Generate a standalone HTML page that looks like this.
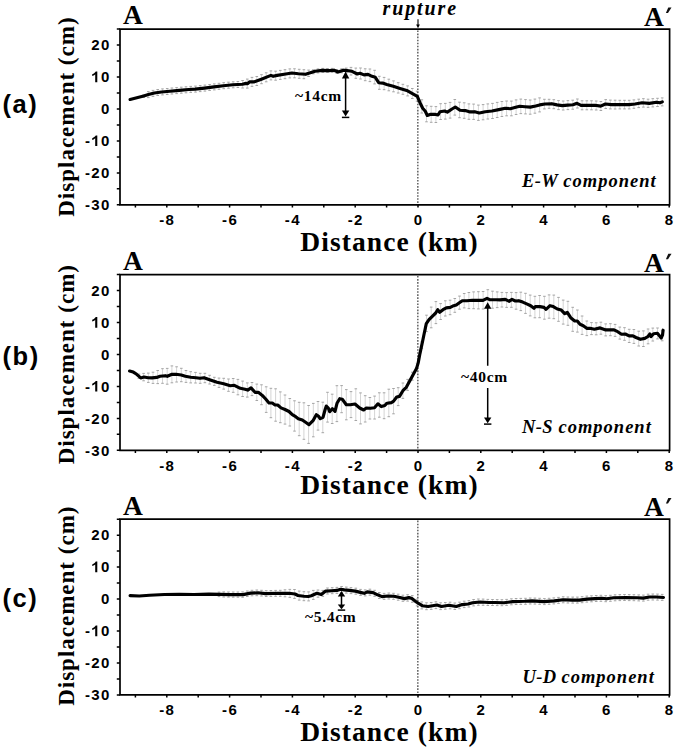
<!DOCTYPE html>
<html><head><meta charset="utf-8"><style>
html,body{margin:0;padding:0;background:#fff;}
body{width:675px;height:749px;overflow:hidden;}
svg{display:block;}
.tl{font-family:"Liberation Sans",sans-serif;font-weight:bold;font-size:15px;letter-spacing:1.4px;}
.AA{font-family:"Liberation Serif",serif;font-weight:bold;font-size:27.5px;}
.rup{font-family:"Liberation Serif",serif;font-weight:bold;font-style:italic;font-size:20px;letter-spacing:1.9px;}
.pl{font-family:"Liberation Sans",sans-serif;font-weight:bold;font-size:25.5px;letter-spacing:1.6px;}
.xl{font-family:"Liberation Serif",serif;font-weight:bold;font-size:27.5px;letter-spacing:1.1px;}
.yl{font-family:"Liberation Serif",serif;font-weight:bold;font-size:23px;letter-spacing:1.0px;}
.comp{font-family:"Liberation Serif",serif;font-weight:bold;font-style:italic;font-size:18.5px;letter-spacing:1.0px;}
.ew{letter-spacing:0.4px;}
.ann{font-family:"Liberation Serif",serif;font-weight:bold;font-size:15.5px;letter-spacing:0.7px;}
</style></head><body>
<svg width="675" height="749" viewBox="0 0 675 749">
<rect width="675" height="749" fill="#fff"/>
<path d="M143.6 94.7V97.4M148.3 91.6V97.6M153 90.4V96.4M157.7 89.5V95.5M162.5 88.9V94.9M167.2 88.5V94.5M171.9 88V94M176.6 87.6V93.6M181.3 87.2V93.2M186 86.8V92.8M190.7 86.4V92.4M195.5 86.1V92.1M200.2 85.6V91.6M204.9 85.1V91.1M209.6 84.5V90.5M214.3 83.9V89.9M219 83.3V89.3M223.7 82.7V88.7M228.5 82.2V88.2M233.2 81.8V87.8M237.9 81.5V87.5M242.6 80.5V88M247.3 79.1V88.1M252 77.4V86.4M256.8 76.5V85.5M261.5 74.7V83.7M266.2 72.8V81.8M270.9 70.9V79.9M275.6 71.2V80.2M280.3 70.4V79.4M285 69.7V78.7M289.8 68.9V77.9M294.5 68.8V77.8M299.2 69.3V78.3M303.9 69.7V78.7M308.6 70.1V76.5M313.3 69.8V73.8M318 68.9V72.9M322.8 68.4V72.4M327.5 68.5V72.5M332.2 68.4V72.4M336.9 69.5V73.5M341.6 68.8V72.8M346.3 68.1V72.9M351 67.4V75M355.8 68.1V78.3M360.5 68V79M365.2 68.8V80.7M369.9 69V81.6M374.6 70.3V83.9M379.3 76.3V89.3M384.1 77.4V89.7M388.8 79.2V90.8M393.5 80.9V91.8M398.2 82.7V93M402.9 84.3V94.3M407.6 85.9V95.9M412.3 88.5V98.5M417.1 91.2V101.2M421.8 99.8V113M426.5 105.8V121.8M431.2 106.3V122.3M435.9 106.6V122.5M440.6 103.7V119.5M445.3 103.4V119.1M450.1 102.4V118.1M454.8 99.5V115.1M459.5 102.2V117.7M464.2 102.8V118.3M468.9 103.9V119.3M473.6 104.1V119.4M478.4 105.1V120.4M483.1 104.6V119.8M487.8 103.9V119M492.5 103.4V118.5M497.2 102.4V117.5M501.9 101.5V116.5M506.6 101V115.8M511.4 101.1V115.8M516.1 99.9V114.5M520.8 99.1V113.6M525.5 99.6V113.9M530.2 100V114.2M534.9 99.1V113.2M539.6 97.9V111.9M544.4 99.3V108.9M549.1 99.3V108.3M553.8 99.7V108.7M558.5 100.6V109.6M563.2 101V110M567.9 100.6V109.6M572.7 100.2V109.2M577.4 99V108M582.1 100.8V109.8M586.8 100.8V109.8M591.5 100.8V109.8M596.2 101V110M600.9 101.5V110.5M605.7 99.6V108.5M610.4 100.1V108.9M615.1 100.2V109M619.8 100.3V108.9M624.5 100.3V108.9M629.2 100.3V108.9M633.9 99.9V108.3M638.7 99.2V107.6M643.4 98.7V107.1M648.1 99.2V107.4M652.8 98.7V106.9M657.5 98.3V106.5M662.2 97.9V105.9" stroke="#d4d4d4" stroke-width="1" fill="none"/>
<path d="M142.3 94.7h2.6M142.3 97.4h2.6M147 91.6h2.6M147 97.6h2.6M151.7 90.4h2.6M151.7 96.4h2.6M156.4 89.5h2.6M156.4 95.5h2.6M161.2 88.9h2.6M161.2 94.9h2.6M165.9 88.5h2.6M165.9 94.5h2.6M170.6 88h2.6M170.6 94h2.6M175.3 87.6h2.6M175.3 93.6h2.6M180 87.2h2.6M180 93.2h2.6M184.7 86.8h2.6M184.7 92.8h2.6M189.4 86.4h2.6M189.4 92.4h2.6M194.2 86.1h2.6M194.2 92.1h2.6M198.9 85.6h2.6M198.9 91.6h2.6M203.6 85.1h2.6M203.6 91.1h2.6M208.3 84.5h2.6M208.3 90.5h2.6M213 83.9h2.6M213 89.9h2.6M217.7 83.3h2.6M217.7 89.3h2.6M222.4 82.7h2.6M222.4 88.7h2.6M227.2 82.2h2.6M227.2 88.2h2.6M231.9 81.8h2.6M231.9 87.8h2.6M236.6 81.5h2.6M236.6 87.5h2.6M241.3 80.5h2.6M241.3 88h2.6M246 79.1h2.6M246 88.1h2.6M250.7 77.4h2.6M250.7 86.4h2.6M255.5 76.5h2.6M255.5 85.5h2.6M260.2 74.7h2.6M260.2 83.7h2.6M264.9 72.8h2.6M264.9 81.8h2.6M269.6 70.9h2.6M269.6 79.9h2.6M274.3 71.2h2.6M274.3 80.2h2.6M279 70.4h2.6M279 79.4h2.6M283.7 69.7h2.6M283.7 78.7h2.6M288.5 68.9h2.6M288.5 77.9h2.6M293.2 68.8h2.6M293.2 77.8h2.6M297.9 69.3h2.6M297.9 78.3h2.6M302.6 69.7h2.6M302.6 78.7h2.6M307.3 70.1h2.6M307.3 76.5h2.6M312 69.8h2.6M312 73.8h2.6M316.7 68.9h2.6M316.7 72.9h2.6M321.5 68.4h2.6M321.5 72.4h2.6M326.2 68.5h2.6M326.2 72.5h2.6M330.9 68.4h2.6M330.9 72.4h2.6M335.6 69.5h2.6M335.6 73.5h2.6M340.3 68.8h2.6M340.3 72.8h2.6M345 68.1h2.6M345 72.9h2.6M349.7 67.4h2.6M349.7 75h2.6M354.5 68.1h2.6M354.5 78.3h2.6M359.2 68h2.6M359.2 79h2.6M363.9 68.8h2.6M363.9 80.7h2.6M368.6 69h2.6M368.6 81.6h2.6M373.3 70.3h2.6M373.3 83.9h2.6M378 76.3h2.6M378 89.3h2.6M382.8 77.4h2.6M382.8 89.7h2.6M387.5 79.2h2.6M387.5 90.8h2.6M392.2 80.9h2.6M392.2 91.8h2.6M396.9 82.7h2.6M396.9 93h2.6M401.6 84.3h2.6M401.6 94.3h2.6M406.3 85.9h2.6M406.3 95.9h2.6M411 88.5h2.6M411 98.5h2.6M415.8 91.2h2.6M415.8 101.2h2.6M420.5 99.8h2.6M420.5 113h2.6M425.2 105.8h2.6M425.2 121.8h2.6M429.9 106.3h2.6M429.9 122.3h2.6M434.6 106.6h2.6M434.6 122.5h2.6M439.3 103.7h2.6M439.3 119.5h2.6M444 103.4h2.6M444 119.1h2.6M448.8 102.4h2.6M448.8 118.1h2.6M453.5 99.5h2.6M453.5 115.1h2.6M458.2 102.2h2.6M458.2 117.7h2.6M462.9 102.8h2.6M462.9 118.3h2.6M467.6 103.9h2.6M467.6 119.3h2.6M472.3 104.1h2.6M472.3 119.4h2.6M477.1 105.1h2.6M477.1 120.4h2.6M481.8 104.6h2.6M481.8 119.8h2.6M486.5 103.9h2.6M486.5 119h2.6M491.2 103.4h2.6M491.2 118.5h2.6M495.9 102.4h2.6M495.9 117.5h2.6M500.6 101.5h2.6M500.6 116.5h2.6M505.3 101h2.6M505.3 115.8h2.6M510.1 101.1h2.6M510.1 115.8h2.6M514.8 99.9h2.6M514.8 114.5h2.6M519.5 99.1h2.6M519.5 113.6h2.6M524.2 99.6h2.6M524.2 113.9h2.6M528.9 100h2.6M528.9 114.2h2.6M533.6 99.1h2.6M533.6 113.2h2.6M538.3 97.9h2.6M538.3 111.9h2.6M543.1 99.3h2.6M543.1 108.9h2.6M547.8 99.3h2.6M547.8 108.3h2.6M552.5 99.7h2.6M552.5 108.7h2.6M557.2 100.6h2.6M557.2 109.6h2.6M561.9 101h2.6M561.9 110h2.6M566.6 100.6h2.6M566.6 109.6h2.6M571.4 100.2h2.6M571.4 109.2h2.6M576.1 99h2.6M576.1 108h2.6M580.8 100.8h2.6M580.8 109.8h2.6M585.5 100.8h2.6M585.5 109.8h2.6M590.2 100.8h2.6M590.2 109.8h2.6M594.9 101h2.6M594.9 110h2.6M599.6 101.5h2.6M599.6 110.5h2.6M604.4 99.6h2.6M604.4 108.5h2.6M609.1 100.1h2.6M609.1 108.9h2.6M613.8 100.2h2.6M613.8 109h2.6M618.5 100.3h2.6M618.5 108.9h2.6M623.2 100.3h2.6M623.2 108.9h2.6M627.9 100.3h2.6M627.9 108.9h2.6M632.6 99.9h2.6M632.6 108.3h2.6M637.4 99.2h2.6M637.4 107.6h2.6M642.1 98.7h2.6M642.1 107.1h2.6M646.8 99.2h2.6M646.8 107.4h2.6M651.5 98.7h2.6M651.5 106.9h2.6M656.2 98.3h2.6M656.2 106.5h2.6M660.9 97.9h2.6M660.9 105.9h2.6" stroke="#9c9c9c" stroke-width="0.9" fill="none"/>
<line x1="417.8" y1="30.5" x2="417.8" y2="203.8" stroke="#6a6a6a" stroke-width="1.6" stroke-dasharray="1.6 1.45"/>
<polyline points="130.1,99.5 137.8,97.5 143.7,96 148.4,94.6 154.4,93 161.5,92 169.8,91.2 179.3,90.4 188.7,89.5 195,89.1 204.5,88.1 214,86.9 223.4,85.7 232.9,84.8 242.4,84.3 246,83.4 247.7,83.7 249.5,81.9 254.3,81.9 261.4,79.2 270.9,75.4 273.2,76.3 277.1,75.4 284.2,74.3 291.9,73 298.4,73.7 305.6,74.3 310.3,72.8 315,71.2 322.1,70.4 329.3,70.6 334,70.2 338.1,72 343.5,70.2 345.3,70.4 352,71.3 357.3,74 360,73.3 364,74.9 368,74.4 372,76.3 375.3,77.3 378.7,82.7 382.7,83.1 386.7,84.4 393.3,86.3 400,88.4 406.7,90.4 412,93.3 417.3,96.3 420,102.7 422.7,108.3 425.3,111.3 427.3,115.5 430.7,114.3 434.7,114.3 438,115 440,111.7 444.7,111 447.3,112.1 452,109 455.3,107 460,110.3 465.3,110.6 470,111.9 474.7,111.7 479.3,113 485.3,111.7 492,111 500,109.4 505.3,108.3 510.3,108.7 515.7,107.3 519.7,106.3 525,106.7 530.3,107.1 535.7,106 539.7,104.9 545,104 551.7,103.7 557,104.9 562.3,105.6 567.7,105.1 573,104.7 577,103.3 581,105.3 587.7,105.3 595,105.3 600.7,106.1 605.4,104 611.3,104.6 619.6,104.6 629.1,104.6 635,104 642.1,102.8 649.3,103.4 656.4,102.2 659.9,102.8 662.3,101.9" fill="none" stroke="#000" stroke-width="3.15" stroke-linejoin="round" stroke-linecap="round"/>
<path d="M120 29.1H669.6V204.8H120Z" fill="none" stroke="#000" stroke-width="1.7"/>
<path d="M116.8 204.8H120M116.8 188.8H120M116.8 172.9H120M116.8 156.9H120M116.8 140.9H120M116.8 124.9H120M116.8 109H120M116.8 93H120M116.8 77H120M116.8 61H120M116.8 45.1H120M116.8 29.1H120M135.4 204.8V207.4M166.8 204.8V207.4M198.2 204.8V207.4M229.6 204.8V207.4M261 204.8V207.4M292.4 204.8V207.4M323.8 204.8V207.4M355.2 204.8V207.4M386.6 204.8V207.4M418 204.8V207.4M449.4 204.8V207.4M480.8 204.8V207.4M512.2 204.8V207.4M543.6 204.8V207.4M575 204.8V207.4M606.4 204.8V207.4M637.8 204.8V207.4M669.2 204.8V207.4" stroke="#000" stroke-width="1.5" fill="none"/>
<text x="110.8" y="210" class="tl" text-anchor="end">-30</text>
<text x="110.8" y="178.1" class="tl" text-anchor="end">-20</text>
<text x="84.9" y="146.1" class="tl">-</text>
<path d="M97.3 146.1L97.3 135.4L95.8 135.4L94.9 136.5L93.9 137.3L92.2 138.2L92.2 139.9L93.6 139.4L94.6 138.8L95.2 138.2L95.2 146.1Z" fill="#000"/>
<text x="101.1" y="146.1" class="tl">0</text>
<text x="110.8" y="114.2" class="tl" text-anchor="end">0</text>
<path d="M97.3 82.2L97.3 71.5L95.8 71.5L94.9 72.6L93.9 73.4L92.2 74.3L92.2 76L93.6 75.5L94.6 74.9L95.2 74.3L95.2 82.2Z" fill="#000"/>
<text x="101.1" y="82.2" class="tl">0</text>
<text x="110.8" y="50.3" class="tl" text-anchor="end">20</text>
<text x="167.3" y="225" class="tl" text-anchor="middle">-8</text>
<text x="230.1" y="225" class="tl" text-anchor="middle">-6</text>
<text x="292.9" y="225" class="tl" text-anchor="middle">-4</text>
<text x="355.7" y="225" class="tl" text-anchor="middle">-2</text>
<text x="418.5" y="225" class="tl" text-anchor="middle">0</text>
<text x="481.3" y="225" class="tl" text-anchor="middle">2</text>
<text x="544.1" y="225" class="tl" text-anchor="middle">4</text>
<text x="606.9" y="225" class="tl" text-anchor="middle">6</text>
<text x="669.7" y="225" class="tl" text-anchor="middle">8</text>
<path d="M138.9 374.1V378.4M143.6 373.4V380.8M148.3 373.1V382.4M153 372.2V383.4M157.7 370.5V383.6M162.5 368.7V383.3M167.2 368.4V384.2M171.9 365.9V382.8M176.6 366.8V382M181.3 368.3V381.7M186 370.5V382.4M190.7 371.7V382.9M195.5 372.4V383M200.2 373.3V383.3M204.9 373.3V382.7M209.6 375.3V384M214.3 377.3V385.4M219 378.1V387.4M223.7 378.3V389.1M228.5 379V391.3M233.2 378.5V392.3M237.9 379.4V394.8M242.6 381.1V396.5M247.3 382.9V397.1M252 382.5V395.6M256.8 384.1V400.5M261.5 384.8V404.7M266.2 386.8V412.4M270.9 388.3V417.7M275.6 388.8V421.2M280.3 391.9V422.7M285 395V424.1M289.8 398.5V426M294.5 400.8V431.1M299.2 402.3V435.7M303.9 402.8V439.3M308.6 405.5V443.4M313.3 403.4V436.8M318 401.5V430.1M322.8 402.2V432.7M327.5 392.3V422.1M332.2 394.2V423.5M336.9 385.7V421.6M341.6 385.6V412.7M346.3 389.6V419.8M351 391.6V417.6M355.8 388.8V420.5M360.5 392.9V423.9M365.2 395.7V422M369.9 397.5V419M374.6 396.1V419M379.3 392.8V417.2M384.1 392.8V418.7M388.8 389.2V416.7M393.5 388.5V413.8M398.2 387.7V405.6M402.9 383V398.4M407.6 379.4V390.4M412.3 372.2V380.2M417.1 363.1V370.3M421.8 341.8V348.4M426.5 315.2V331.6M431.2 307.1V327.8M435.9 301.6V323.6M440.6 303.6V319.5M445.3 300.8V316M450.1 300.2V314.7M454.8 298.5V312.3M459.5 296.1V309.2M464.2 293.5V307.9M468.9 292.5V308.6M473.6 291.9V308.7M478.4 291.7V308.9M483.1 291.5V309M487.8 289.7V307.7M492.5 291.2V308.2M497.2 291.9V307.6M501.9 292.4V307M506.6 292.6V307.4M511.4 292.4V307.3M516.1 292.6V309.2M520.8 292.2V310.6M525.5 293.3V313.4M530.2 295.1V315.9M534.9 296.3V317.8M539.6 295.5V317.7M544.4 296.3V319.2M549.1 294.9V318.2M553.8 295.1V318.7M558.5 297.4V321.3M563.2 300.1V324.1M567.9 301.3V325.3M572.7 307.3V331.3M577.4 310V332.1M582.1 316V334.4M586.8 321V335.6M591.5 322.6V334.6M596.2 322.8V334.8M600.9 322.2V334.2M605.7 323.9V335.9M610.4 323.7V335.7M615.1 324.4V336.4M619.8 327.1V339.1M624.5 327.7V340.3M629.2 329.3V342.5M633.9 329.5V343.4M638.7 331.2V346M643.4 330.9V346.5M648.1 329V343.8M652.8 328.1V341M657.5 328V338.9M662.2 330.8V340.8" stroke="#d4d4d4" stroke-width="1" fill="none"/>
<path d="M137.6 374.1h2.6M137.6 378.4h2.6M142.3 373.4h2.6M142.3 380.8h2.6M147 373.1h2.6M147 382.4h2.6M151.7 372.2h2.6M151.7 383.4h2.6M156.4 370.5h2.6M156.4 383.6h2.6M161.2 368.7h2.6M161.2 383.3h2.6M165.9 368.4h2.6M165.9 384.2h2.6M170.6 365.9h2.6M170.6 382.8h2.6M175.3 366.8h2.6M175.3 382h2.6M180 368.3h2.6M180 381.7h2.6M184.7 370.5h2.6M184.7 382.4h2.6M189.4 371.7h2.6M189.4 382.9h2.6M194.2 372.4h2.6M194.2 383h2.6M198.9 373.3h2.6M198.9 383.3h2.6M203.6 373.3h2.6M203.6 382.7h2.6M208.3 375.3h2.6M208.3 384h2.6M213 377.3h2.6M213 385.4h2.6M217.7 378.1h2.6M217.7 387.4h2.6M222.4 378.3h2.6M222.4 389.1h2.6M227.2 379h2.6M227.2 391.3h2.6M231.9 378.5h2.6M231.9 392.3h2.6M236.6 379.4h2.6M236.6 394.8h2.6M241.3 381.1h2.6M241.3 396.5h2.6M246 382.9h2.6M246 397.1h2.6M250.7 382.5h2.6M250.7 395.6h2.6M255.5 384.1h2.6M255.5 400.5h2.6M260.2 384.8h2.6M260.2 404.7h2.6M264.9 386.8h2.6M264.9 412.4h2.6M269.6 388.3h2.6M269.6 417.7h2.6M274.3 388.8h2.6M274.3 421.2h2.6M279 391.9h2.6M279 422.7h2.6M283.7 395h2.6M283.7 424.1h2.6M288.5 398.5h2.6M288.5 426h2.6M293.2 400.8h2.6M293.2 431.1h2.6M297.9 402.3h2.6M297.9 435.7h2.6M302.6 402.8h2.6M302.6 439.3h2.6M307.3 405.5h2.6M307.3 443.4h2.6M312 403.4h2.6M312 436.8h2.6M316.7 401.5h2.6M316.7 430.1h2.6M321.5 402.2h2.6M321.5 432.7h2.6M326.2 392.3h2.6M326.2 422.1h2.6M330.9 394.2h2.6M330.9 423.5h2.6M335.6 385.7h2.6M335.6 421.6h2.6M340.3 385.6h2.6M340.3 412.7h2.6M345 389.6h2.6M345 419.8h2.6M349.7 391.6h2.6M349.7 417.6h2.6M354.5 388.8h2.6M354.5 420.5h2.6M359.2 392.9h2.6M359.2 423.9h2.6M363.9 395.7h2.6M363.9 422h2.6M368.6 397.5h2.6M368.6 419h2.6M373.3 396.1h2.6M373.3 419h2.6M378 392.8h2.6M378 417.2h2.6M382.8 392.8h2.6M382.8 418.7h2.6M387.5 389.2h2.6M387.5 416.7h2.6M392.2 388.5h2.6M392.2 413.8h2.6M396.9 387.7h2.6M396.9 405.6h2.6M401.6 383h2.6M401.6 398.4h2.6M406.3 379.4h2.6M406.3 390.4h2.6M411 372.2h2.6M411 380.2h2.6M415.8 363.1h2.6M415.8 370.3h2.6M420.5 341.8h2.6M420.5 348.4h2.6M425.2 315.2h2.6M425.2 331.6h2.6M429.9 307.1h2.6M429.9 327.8h2.6M434.6 301.6h2.6M434.6 323.6h2.6M439.3 303.6h2.6M439.3 319.5h2.6M444 300.8h2.6M444 316h2.6M448.8 300.2h2.6M448.8 314.7h2.6M453.5 298.5h2.6M453.5 312.3h2.6M458.2 296.1h2.6M458.2 309.2h2.6M462.9 293.5h2.6M462.9 307.9h2.6M467.6 292.5h2.6M467.6 308.6h2.6M472.3 291.9h2.6M472.3 308.7h2.6M477.1 291.7h2.6M477.1 308.9h2.6M481.8 291.5h2.6M481.8 309h2.6M486.5 289.7h2.6M486.5 307.7h2.6M491.2 291.2h2.6M491.2 308.2h2.6M495.9 291.9h2.6M495.9 307.6h2.6M500.6 292.4h2.6M500.6 307h2.6M505.3 292.6h2.6M505.3 307.4h2.6M510.1 292.4h2.6M510.1 307.3h2.6M514.8 292.6h2.6M514.8 309.2h2.6M519.5 292.2h2.6M519.5 310.6h2.6M524.2 293.3h2.6M524.2 313.4h2.6M528.9 295.1h2.6M528.9 315.9h2.6M533.6 296.3h2.6M533.6 317.8h2.6M538.3 295.5h2.6M538.3 317.7h2.6M543.1 296.3h2.6M543.1 319.2h2.6M547.8 294.9h2.6M547.8 318.2h2.6M552.5 295.1h2.6M552.5 318.7h2.6M557.2 297.4h2.6M557.2 321.3h2.6M561.9 300.1h2.6M561.9 324.1h2.6M566.6 301.3h2.6M566.6 325.3h2.6M571.4 307.3h2.6M571.4 331.3h2.6M576.1 310h2.6M576.1 332.1h2.6M580.8 316h2.6M580.8 334.4h2.6M585.5 321h2.6M585.5 335.6h2.6M590.2 322.6h2.6M590.2 334.6h2.6M594.9 322.8h2.6M594.9 334.8h2.6M599.6 322.2h2.6M599.6 334.2h2.6M604.4 323.9h2.6M604.4 335.9h2.6M609.1 323.7h2.6M609.1 335.7h2.6M613.8 324.4h2.6M613.8 336.4h2.6M618.5 327.1h2.6M618.5 339.1h2.6M623.2 327.7h2.6M623.2 340.3h2.6M627.9 329.3h2.6M627.9 342.5h2.6M632.6 329.5h2.6M632.6 343.4h2.6M637.4 331.2h2.6M637.4 346h2.6M642.1 330.9h2.6M642.1 346.5h2.6M646.8 329h2.6M646.8 343.8h2.6M651.5 328.1h2.6M651.5 341h2.6M656.2 328h2.6M656.2 338.9h2.6M660.9 330.8h2.6M660.9 340.8h2.6" stroke="#9c9c9c" stroke-width="0.9" fill="none"/>
<line x1="417.8" y1="276" x2="417.8" y2="449.3" stroke="#6a6a6a" stroke-width="1.6" stroke-dasharray="1.6 1.45"/>
<polyline points="129.6,371 133.3,372.1 136.7,374.3 140.7,377.9 144,377 148,377.7 152,377.9 156.7,377.4 160,376.3 165.3,375.7 167.3,376.3 172,374.3 176,374.3 181.3,375 185.3,376.3 190.7,377.3 196,377.7 200,378.3 204,377.7 210.3,379.9 217,382.3 223.7,383.7 230.3,385.7 234.3,385.3 240.3,388.3 245,389.3 247.7,390.1 251,387.9 255,392.3 258.3,392.3 262.3,395.4 265.7,399 269,403 272.3,403 275,405 277.7,405 281,407.9 285,409.5 289,411.5 292.3,414.7 295.7,416.7 298.3,418.7 302.3,420 306.3,422.7 309,424.7 313,420.7 316.3,414.7 318.3,416 320.3,418.7 323,417.3 325,410 326.3,406 328.3,408 329.7,411.7 332.3,408.7 335,411.3 337,403.3 339.7,398.7 342.3,399.3 346.3,404.7 350.3,404.7 355,404 359.7,408 363.7,410 366.3,408 370.3,408.3 374.5,407.7 377.9,403.8 381.3,406.6 384.8,405.5 387,403.2 391.6,402.6 393.8,400.9 396.7,397 399.5,396.4 402.9,390.7 406.3,387.3 409.7,381.1 413.1,374.8 416.5,368.6 418.2,362.9 419.9,353.8 421.6,345.9 422.8,340.2 424.3,333 426.3,323.7 429,319.7 432.3,316.3 435.7,313 437.7,309.7 439.7,312.3 443,309.7 446.3,307.9 450.3,307.4 453.7,305.7 456.3,305 459,303 462.3,300.7 467,300.7 472.3,300.3 477.7,300.3 483,300.3 487,298.3 489.7,299.7 496.3,299.7 500,299.9 505.3,299.4 509.3,301.3 512,299.4 515.3,301 518.7,300.7 522.7,302.1 526.7,303.9 530.7,305.7 534,308.3 535.3,306.6 540,306.6 544,307.4 546,309.3 550,305.7 553.3,306.6 557.3,309 561.3,310.1 564.7,313.7 567.3,312.3 570.7,317.7 574.7,321 577.3,321 580,324.3 583.3,325.7 586.7,328.3 590,328.3 594.4,329.2 600.1,327.9 605.8,329.9 610.2,329.7 614,329.9 617.7,331.7 621.5,334.2 625.3,334 629.1,335.9 632.9,335.9 636,337.5 640.4,339.3 644.8,338.4 648,336.5 649.9,334 651.1,336.5 653.6,333.7 657.4,333.3 661.2,338 662.5,335.2 663.1,330.2" fill="none" stroke="#000" stroke-width="3.15" stroke-linejoin="round" stroke-linecap="round"/>
<path d="M120 274.6H669.6V450.3H120Z" fill="none" stroke="#000" stroke-width="1.7"/>
<path d="M116.8 450.3H120M116.8 434.3H120M116.8 418.4H120M116.8 402.4H120M116.8 386.4H120M116.8 370.4H120M116.8 354.5H120M116.8 338.5H120M116.8 322.5H120M116.8 306.5H120M116.8 290.6H120M116.8 274.6H120M135.4 450.3V452.9M166.8 450.3V452.9M198.2 450.3V452.9M229.6 450.3V452.9M261 450.3V452.9M292.4 450.3V452.9M323.8 450.3V452.9M355.2 450.3V452.9M386.6 450.3V452.9M418 450.3V452.9M449.4 450.3V452.9M480.8 450.3V452.9M512.2 450.3V452.9M543.6 450.3V452.9M575 450.3V452.9M606.4 450.3V452.9M637.8 450.3V452.9M669.2 450.3V452.9" stroke="#000" stroke-width="1.5" fill="none"/>
<text x="110.8" y="455.5" class="tl" text-anchor="end">-30</text>
<text x="110.8" y="423.6" class="tl" text-anchor="end">-20</text>
<text x="84.9" y="391.6" class="tl">-</text>
<path d="M97.3 391.6L97.3 380.9L95.8 380.9L94.9 382L93.9 382.8L92.2 383.7L92.2 385.4L93.6 384.9L94.6 384.3L95.2 383.7L95.2 391.6Z" fill="#000"/>
<text x="101.1" y="391.6" class="tl">0</text>
<text x="110.8" y="359.7" class="tl" text-anchor="end">0</text>
<path d="M97.3 327.7L97.3 317L95.8 317L94.9 318.1L93.9 318.9L92.2 319.8L92.2 321.5L93.6 321L94.6 320.4L95.2 319.8L95.2 327.7Z" fill="#000"/>
<text x="101.1" y="327.7" class="tl">0</text>
<text x="110.8" y="295.8" class="tl" text-anchor="end">20</text>
<text x="167.3" y="470.5" class="tl" text-anchor="middle">-8</text>
<text x="230.1" y="470.5" class="tl" text-anchor="middle">-6</text>
<text x="292.9" y="470.5" class="tl" text-anchor="middle">-4</text>
<text x="355.7" y="470.5" class="tl" text-anchor="middle">-2</text>
<text x="418.5" y="470.5" class="tl" text-anchor="middle">0</text>
<text x="481.3" y="470.5" class="tl" text-anchor="middle">2</text>
<text x="544.1" y="470.5" class="tl" text-anchor="middle">4</text>
<text x="606.9" y="470.5" class="tl" text-anchor="middle">6</text>
<text x="669.7" y="470.5" class="tl" text-anchor="middle">8</text>
<path d="M219 592.1V596.6M223.7 591.9V597M228.5 592V597.1M233.2 592V597.2M237.9 592V597.2M242.6 591.9V597.3M247.3 591V596.5M252 590.3V595.8M256.8 590V595.7M261.5 590.3V596M266.2 590.7V596.5M270.9 590.5V596.4M275.6 590.4V596.3M280.3 590.3V596.3M285 589.8V596.8M289.8 589.4V597.4M294.5 589.5V598.4M299.2 591.1V600.1M303.9 591.7V600.7M308.6 591.9V600.9M313.3 590.4V599.4M318 590V597.2M322.8 590.4V596.4M327.5 588V594M332.2 587.7V593.7M336.9 587.4V593.4M341.6 586.5V592.5M346.3 587.1V593.1M351 587.6V593.6M355.8 588.2V594.2M360.5 589.4V595.4M365.2 589.9V595.9M369.9 589.2V595.2M374.6 590.3V596.3M379.3 592.5V598.5M384.1 593.4V599.4M388.8 593V599M393.5 593.3V599.3M398.2 594.2V600.2M402.9 595.2V601.3M407.6 594.7V601.1M412.3 595.6V602.3M417.1 599.1V605.9M421.8 601.9V608.9M426.5 602.8V609.7M431.2 602.5V609.4M435.9 601.8V608.6M440.6 602.8V609.6M445.3 602.5V609.2M450.1 602.2V608.8M454.8 603V609.5M459.5 602.2V608.7M464.2 601.2V607.6M468.9 600.6V607M473.6 599.5V605.9M478.4 599V605.3M483.1 599.1V605.3M487.8 599.4V605.5M492.5 599.5V605.5M497.2 599.6V605.6M501.9 599.7V605.7M506.6 599.4V605.4M511.4 598.8V604.8M516.1 598.5V604.5M520.8 598.4V604.4M525.5 598.3V604.3M530.2 598V604M534.9 598.1V604.1M539.6 598.3V604.3M544.4 598.6V604.6M549.1 598.3V604.3M553.8 597.9V603.9M558.5 597.4V603.4M563.2 596.8V602.8M567.9 597V603M572.7 597.1V603.1M577.4 597.1V603.1M582.1 596.7V602.7M586.8 596.1V602.1M591.5 595.8V601.8M596.2 595.5V601.5M600.9 595.3V601.3M605.7 595.7V601.7M610.4 595.3V601.3M615.1 594.8V600.8M619.8 594.6V600.6M624.5 594.5V600.5M629.2 594.6V600.6M633.9 594.7V600.7M638.7 594.9V600.9M643.4 595.1V601.1M648.1 594.2V600.2M652.8 594V600M657.5 594.1V600.1M662.2 594.4V600.4" stroke="#d4d4d4" stroke-width="1" fill="none"/>
<path d="M217.7 592.1h2.6M217.7 596.6h2.6M222.4 591.9h2.6M222.4 597h2.6M227.2 592h2.6M227.2 597.1h2.6M231.9 592h2.6M231.9 597.2h2.6M236.6 592h2.6M236.6 597.2h2.6M241.3 591.9h2.6M241.3 597.3h2.6M246 591h2.6M246 596.5h2.6M250.7 590.3h2.6M250.7 595.8h2.6M255.5 590h2.6M255.5 595.7h2.6M260.2 590.3h2.6M260.2 596h2.6M264.9 590.7h2.6M264.9 596.5h2.6M269.6 590.5h2.6M269.6 596.4h2.6M274.3 590.4h2.6M274.3 596.3h2.6M279 590.3h2.6M279 596.3h2.6M283.7 589.8h2.6M283.7 596.8h2.6M288.5 589.4h2.6M288.5 597.4h2.6M293.2 589.5h2.6M293.2 598.4h2.6M297.9 591.1h2.6M297.9 600.1h2.6M302.6 591.7h2.6M302.6 600.7h2.6M307.3 591.9h2.6M307.3 600.9h2.6M312 590.4h2.6M312 599.4h2.6M316.7 590h2.6M316.7 597.2h2.6M321.5 590.4h2.6M321.5 596.4h2.6M326.2 588h2.6M326.2 594h2.6M330.9 587.7h2.6M330.9 593.7h2.6M335.6 587.4h2.6M335.6 593.4h2.6M340.3 586.5h2.6M340.3 592.5h2.6M345 587.1h2.6M345 593.1h2.6M349.7 587.6h2.6M349.7 593.6h2.6M354.5 588.2h2.6M354.5 594.2h2.6M359.2 589.4h2.6M359.2 595.4h2.6M363.9 589.9h2.6M363.9 595.9h2.6M368.6 589.2h2.6M368.6 595.2h2.6M373.3 590.3h2.6M373.3 596.3h2.6M378 592.5h2.6M378 598.5h2.6M382.8 593.4h2.6M382.8 599.4h2.6M387.5 593h2.6M387.5 599h2.6M392.2 593.3h2.6M392.2 599.3h2.6M396.9 594.2h2.6M396.9 600.2h2.6M401.6 595.2h2.6M401.6 601.3h2.6M406.3 594.7h2.6M406.3 601.1h2.6M411 595.6h2.6M411 602.3h2.6M415.8 599.1h2.6M415.8 605.9h2.6M420.5 601.9h2.6M420.5 608.9h2.6M425.2 602.8h2.6M425.2 609.7h2.6M429.9 602.5h2.6M429.9 609.4h2.6M434.6 601.8h2.6M434.6 608.6h2.6M439.3 602.8h2.6M439.3 609.6h2.6M444 602.5h2.6M444 609.2h2.6M448.8 602.2h2.6M448.8 608.8h2.6M453.5 603h2.6M453.5 609.5h2.6M458.2 602.2h2.6M458.2 608.7h2.6M462.9 601.2h2.6M462.9 607.6h2.6M467.6 600.6h2.6M467.6 607h2.6M472.3 599.5h2.6M472.3 605.9h2.6M477.1 599h2.6M477.1 605.3h2.6M481.8 599.1h2.6M481.8 605.3h2.6M486.5 599.4h2.6M486.5 605.5h2.6M491.2 599.5h2.6M491.2 605.5h2.6M495.9 599.6h2.6M495.9 605.6h2.6M500.6 599.7h2.6M500.6 605.7h2.6M505.3 599.4h2.6M505.3 605.4h2.6M510.1 598.8h2.6M510.1 604.8h2.6M514.8 598.5h2.6M514.8 604.5h2.6M519.5 598.4h2.6M519.5 604.4h2.6M524.2 598.3h2.6M524.2 604.3h2.6M528.9 598h2.6M528.9 604h2.6M533.6 598.1h2.6M533.6 604.1h2.6M538.3 598.3h2.6M538.3 604.3h2.6M543.1 598.6h2.6M543.1 604.6h2.6M547.8 598.3h2.6M547.8 604.3h2.6M552.5 597.9h2.6M552.5 603.9h2.6M557.2 597.4h2.6M557.2 603.4h2.6M561.9 596.8h2.6M561.9 602.8h2.6M566.6 597h2.6M566.6 603h2.6M571.4 597.1h2.6M571.4 603.1h2.6M576.1 597.1h2.6M576.1 603.1h2.6M580.8 596.7h2.6M580.8 602.7h2.6M585.5 596.1h2.6M585.5 602.1h2.6M590.2 595.8h2.6M590.2 601.8h2.6M594.9 595.5h2.6M594.9 601.5h2.6M599.6 595.3h2.6M599.6 601.3h2.6M604.4 595.7h2.6M604.4 601.7h2.6M609.1 595.3h2.6M609.1 601.3h2.6M613.8 594.8h2.6M613.8 600.8h2.6M618.5 594.6h2.6M618.5 600.6h2.6M623.2 594.5h2.6M623.2 600.5h2.6M627.9 594.6h2.6M627.9 600.6h2.6M632.6 594.7h2.6M632.6 600.7h2.6M637.4 594.9h2.6M637.4 600.9h2.6M642.1 595.1h2.6M642.1 601.1h2.6M646.8 594.2h2.6M646.8 600.2h2.6M651.5 594h2.6M651.5 600h2.6M656.2 594.1h2.6M656.2 600.1h2.6M660.9 594.4h2.6M660.9 600.4h2.6" stroke="#9c9c9c" stroke-width="0.9" fill="none"/>
<line x1="417.8" y1="520.6" x2="417.8" y2="693.9" stroke="#6a6a6a" stroke-width="1.6" stroke-dasharray="1.6 1.45"/>
<polyline points="130.1,595.6 139.3,596 149.6,595.3 164.4,594.5 179.3,594.4 194.1,594.5 208.9,594.1 220,594.4 229.8,594.6 243.1,594.6 250.6,593.1 258,592.8 265.4,593.6 277.2,593.3 289.1,593.3 295,594 298,595.5 303.9,596.2 308.3,596.5 311.3,595.8 316.9,593.3 321.3,594.5 325.7,591.1 331.7,590.7 336.9,590.4 340.6,589.3 344.3,589.9 349.4,590.4 355.4,591.1 361.3,592.6 364.3,593.3 367.2,591.9 373.1,592.6 377.6,594.8 382,596.6 388,596 393.9,596.3 399.8,597.5 404.4,598.6 408.9,597.6 411.9,598.6 416.3,602 422.2,605.7 428.1,606.5 437,605 441.5,606.5 448.9,605.3 456.3,606.5 462.2,604.6 468.1,604 472.6,602.8 480,602 488.9,602.5 495,602.5 503.9,602.8 512.8,601.6 524.6,601.3 532,600.9 543.9,601.6 554.3,600.9 563.1,599.8 572,600.1 579.4,600.1 586.9,599.1 595,598.6 601.9,598.2 606.6,598.8 613.7,597.8 625.6,597.5 637.4,597.8 643.3,598.1 649.3,597 656.4,597 663.5,597.5" fill="none" stroke="#000" stroke-width="3.15" stroke-linejoin="round" stroke-linecap="round"/>
<path d="M120 519.2H669.6V694.9H120Z" fill="none" stroke="#000" stroke-width="1.7"/>
<path d="M116.8 694.9H120M116.8 678.9H120M116.8 663H120M116.8 647H120M116.8 631H120M116.8 615H120M116.8 599.1H120M116.8 583.1H120M116.8 567.1H120M116.8 551.1H120M116.8 535.2H120M116.8 519.2H120M135.4 694.9V697.5M166.8 694.9V697.5M198.2 694.9V697.5M229.6 694.9V697.5M261 694.9V697.5M292.4 694.9V697.5M323.8 694.9V697.5M355.2 694.9V697.5M386.6 694.9V697.5M418 694.9V697.5M449.4 694.9V697.5M480.8 694.9V697.5M512.2 694.9V697.5M543.6 694.9V697.5M575 694.9V697.5M606.4 694.9V697.5M637.8 694.9V697.5M669.2 694.9V697.5" stroke="#000" stroke-width="1.5" fill="none"/>
<text x="110.8" y="700.1" class="tl" text-anchor="end">-30</text>
<text x="110.8" y="668.2" class="tl" text-anchor="end">-20</text>
<text x="84.9" y="636.2" class="tl">-</text>
<path d="M97.3 636.2L97.3 625.5L95.8 625.5L94.9 626.6L93.9 627.4L92.2 628.3L92.2 630L93.6 629.5L94.6 628.9L95.2 628.3L95.2 636.2Z" fill="#000"/>
<text x="101.1" y="636.2" class="tl">0</text>
<text x="110.8" y="604.3" class="tl" text-anchor="end">0</text>
<path d="M97.3 572.3L97.3 561.6L95.8 561.6L94.9 562.7L93.9 563.5L92.2 564.4L92.2 566.1L93.6 565.6L94.6 565L95.2 564.4L95.2 572.3Z" fill="#000"/>
<text x="101.1" y="572.3" class="tl">0</text>
<text x="110.8" y="540.4" class="tl" text-anchor="end">20</text>
<text x="167.3" y="715.1" class="tl" text-anchor="middle">-8</text>
<text x="230.1" y="715.1" class="tl" text-anchor="middle">-6</text>
<text x="292.9" y="715.1" class="tl" text-anchor="middle">-4</text>
<text x="355.7" y="715.1" class="tl" text-anchor="middle">-2</text>
<text x="418.5" y="715.1" class="tl" text-anchor="middle">0</text>
<text x="481.3" y="715.1" class="tl" text-anchor="middle">2</text>
<text x="544.1" y="715.1" class="tl" text-anchor="middle">4</text>
<text x="606.9" y="715.1" class="tl" text-anchor="middle">6</text>
<text x="669.7" y="715.1" class="tl" text-anchor="middle">8</text>
<text x="123" y="23.9" class="AA">A</text>
<text x="644" y="26" class="AA">A</text><path d="M668.3 7.6L671.5 7.6L668.0 13.1L665.9 13.1Z" fill="#111"/>
<text x="123" y="270" class="AA">A</text>
<text x="644" y="272" class="AA">A</text><path d="M668.3 253.8L671.5 253.8L668.0 259.3L665.9 259.3Z" fill="#111"/>
<text x="123" y="514.6" class="AA">A</text>
<text x="644" y="516.3" class="AA">A</text><path d="M668.3 498.0L671.5 498.0L668.0 503.5L665.9 503.5Z" fill="#111"/>
<text x="382.5" y="15.2" class="rup">rupture</text>
<path d="M418 19.2V26" stroke="#222" stroke-width="1.3"/>
<path d="M416.1 24.4L418 28.3L419.9 24.4Z" fill="#000"/>
<text x="2.5" y="112.8" class="pl">(a)</text>
<text x="2.5" y="364.8" class="pl">(b)</text>
<text x="2.5" y="606.7" class="pl">(c)</text>
<text x="389.5" y="251.3" class="xl" text-anchor="middle">Distance (km)</text>
<text x="389.5" y="493.7" class="xl" text-anchor="middle">Distance (km)</text>
<text x="389.5" y="740.7" class="xl" text-anchor="middle">Distance (km)</text>
<text transform="translate(74 116.6) rotate(-90)" class="yl" text-anchor="middle">Displacement (cm)</text>
<text transform="translate(74 364.2) rotate(-90)" class="yl" text-anchor="middle">Displacement (cm)</text>
<text transform="translate(74 605.7) rotate(-90)" class="yl" text-anchor="middle">Displacement (cm)</text>
<text y="187.2" class="comp"><tspan x="522" class="ew">E-W</tspan><tspan x="563.3">component</tspan></text>
<text y="432.8" class="comp"><tspan x="522" class="ew">N-S</tspan><tspan x="558.5">component</tspan></text>
<text y="682.7" class="comp"><tspan x="522.5" class="ew">U-D</tspan><tspan x="561.5">component</tspan></text>
<text x="295" y="101" class="ann">~14cm</text>
<text x="461" y="381.8" class="ann">~40cm</text>
<text x="305" y="621.9" class="ann">~5.4cm</text>
<path d="M345.6 77.4V111.6" stroke="#000" stroke-width="1.5"/>
<path d="M345.6 71.6L341.9 78.4L349.3 78.4Z" fill="#000"/>
<path d="M345.6 116.6L341.9 110.6L349.3 110.6Z" fill="#000"/>
<path d="M341.9 117.4H349.3" stroke="#000" stroke-width="1.5"/>
<path d="M487.7 307.8V365.7M487.7 388V418.6" stroke="#000" stroke-width="1.5"/>
<path d="M487.7 302.3L484 308.8L491.4 308.8Z" fill="#000"/>
<path d="M487.7 423.3L484 417.6L491.4 417.6Z" fill="#000"/>
<path d="M484 424.1H491.4" stroke="#000" stroke-width="1.5"/>
<path d="M341.5 595.4V605.6" stroke="#000" stroke-width="1.5"/>
<path d="M341.5 590.9L337.8 596.4L345.2 596.4Z" fill="#000"/>
<path d="M341.5 609.3L337.8 604.6L345.2 604.6Z" fill="#000"/>
<path d="M337.8 610.1H345.2" stroke="#000" stroke-width="1.5"/>
</svg>
</body></html>
